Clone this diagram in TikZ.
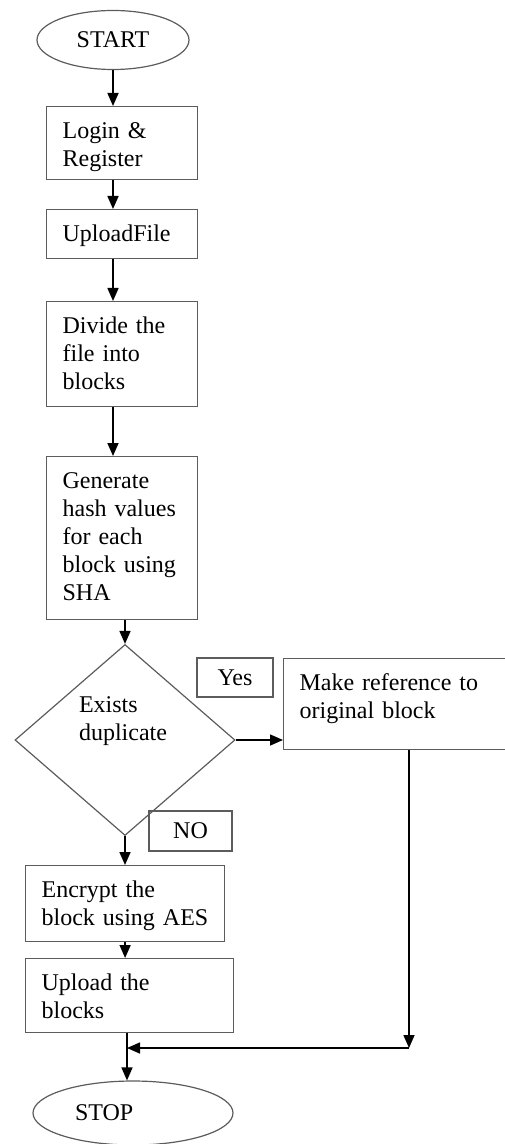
\documentclass[tikz,border=0pt]{standalone}
\usepackage{fontspec}
\setmainfont{Liberation Serif}
\usetikzlibrary{shapes.geometric,arrows.meta}
\definecolor{boxline}{HTML}{5C5C5C}
\tikzset{
  flowbox/.style={draw=boxline, line width=0.6pt, anchor=north west, align=left, inner xsep=8pt, inner ysep=7pt, text height=9pt, font=\fontsize{12}{14}\selectfont},
  term/.style={draw=boxline, line width=0.6pt, ellipse, font=\fontsize{12}{14}\selectfont},
  tag/.style={draw=boxline, line width=0.6pt, font=\fontsize{12}{14}\selectfont},
  flow/.style={draw=black, line width=0.8pt, -{Triangle[length=6.5pt,width=5.5pt]}}
}
\begin{document}
\begin{tikzpicture}[x=0.5pt,y=-0.5pt]%
\useasboundingbox (0,0) rectangle (504,1144);%
\node[term, minimum width=76pt, minimum height=29.5pt] (start) at (113,40) {START};%
\node[flowbox, text width=59.5pt, text depth=13.5pt] (login) at (46,106) {Login \&\\Register};%
\node[flowbox, text width=59.5pt, text depth=1.5pt] (upload) at (46,209) {UploadFile};%
\node[flowbox, text width=59.5pt, text depth=29.5pt] (divide) at (46,301) {Divide the\\file into\\blocks};%
\node[flowbox, text width=59.5pt, text depth=58.5pt] (hash) at (46,456) {Generate\\hash values\\for each\\block using\\SHA};%
\node[draw=boxline, line width=0.6pt, diamond, aspect=1, inner sep=0pt, minimum width=110pt, minimum height=95.5pt, text width=46pt, align=left, text height=9pt, text depth=37pt, font=\fontsize{12}{14}\selectfont] (dup) at (125,740) {Exists\\duplicate};%
\node[tag, minimum width=38pt, minimum height=19.5pt] (yes) at (235,677.5) {Yes};%
\node[flowbox, text width=97.5pt, text depth=22.5pt] (ref) at (283,658) {Make reference to\\original block};%
\node[tag, minimum width=41.5pt, minimum height=20pt] (no) at (190.5,831) {NO};%
\node[flowbox, text width=83.5pt, text depth=15pt] (encrypt) at (25,865) {Encrypt the\\block using AES};%
\node[flowbox, text width=88pt, text depth=14pt] (store) at (25,958) {Upload the\\blocks};%
\node[term, inner sep=0pt, minimum width=100pt, minimum height=32pt, text width=58pt, align=left] (stop) at (133,1113) {STOP};%
\coordinate (join) at (127,1048);%
\coordinate (bend) at (409,1048);%
% main column
\draw[flow] (start.south) -- (start.south |- login.north);%
\draw[flow] (login.south -| start) -- (upload.north -| start);%
\draw[flow] (upload.south -| start) -- (divide.north -| start);%
\draw[flow] (divide.south -| start) -- (hash.north -| start);%
\draw[flow] (hash.south -| dup.north) -- (dup.north);%
\draw[flow] (dup.east) -- (dup.east -| ref.west);%
\draw[flow] (dup.south) -- (dup.south |- encrypt.north);%
\draw[flow] (encrypt.south) -- (encrypt.south |- store.north);%
% merge into stop
\draw[flow] (ref.south -| bend) -- (bend);%
\draw[flow] (bend) -- (join);%
\draw[flow] (store.south -| join) -- (join |- stop.north);%
\end{tikzpicture}
\end{document}
